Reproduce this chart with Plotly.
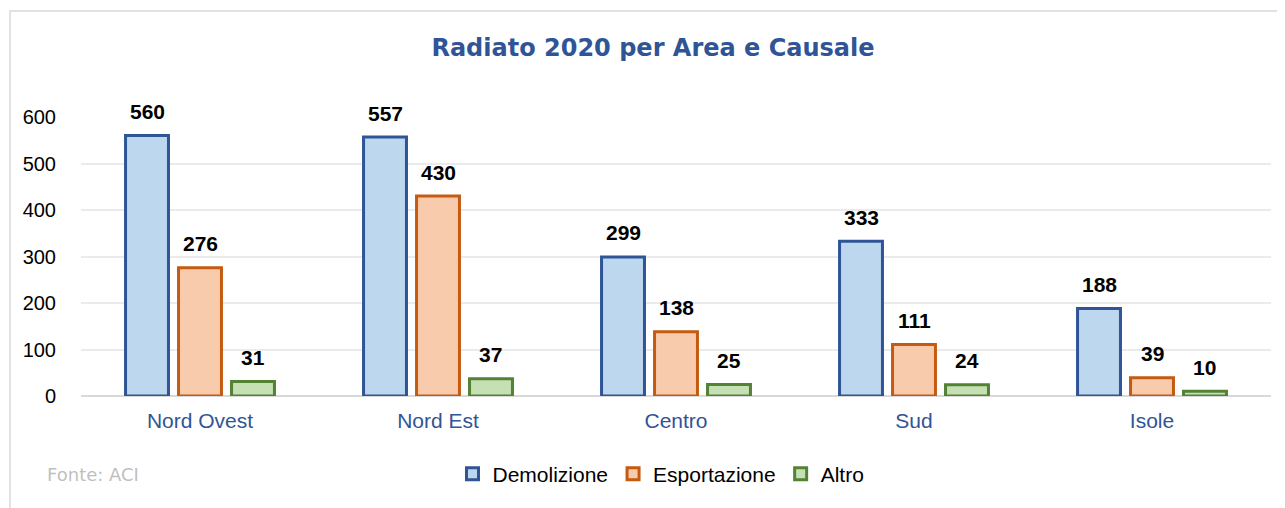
import plotly.graph_objects as go

categories = ["Nord Ovest", "Nord Est", "Centro", "Sud", "Isole"]
demolizione = [560, 557, 299, 333, 188]
esportazione = [276, 430, 138, 111, 39]
altro = [31, 37, 25, 24, 10]
series_names = ["Demolizione", "Esportazione", "Altro"]
y_ticks = [0, 100, 200, 300, 400, 500, 600]

# page body has an 8px default margin; compensate so the chart lands where the reference is
OFF = 8
VW, VH = 1285, 508
W, H = VW - OFF, VH - OFF
ML, MT = 81 - OFF, 117 - OFF
PW, PH = 1190, 279
MR = W - ML - PW
MB = H - MT - PH
BARGAP = 0.332
BARGROUPGAP = 0.19

fills = ["#BDD7EE", "#F8CBAD", "#C5E0B4"]
lines = ["#2F5597", "#C55A11", "#548235"]
series = [demolizione, esportazione, altro]

fig = go.Figure()
for name, vals, fc, lc in zip(series_names, series, fills, lines):
    fig.add_trace(go.Bar(
        x=categories, y=vals, name=name,
        marker=dict(color=fc, line=dict(color=lc, width=3)),
    ))

slot = PW / len(categories) * (1 - BARGAP) / len(series)
annotations = []
for i, vals in enumerate(series):
    for c, v in zip(categories, vals):
        annotations.append(dict(
            x=c, y=v, xref="x", yref="y", text=f"<b>{v}</b>", showarrow=False,
            xshift=(i - 1) * slot, yshift=24, yanchor="middle",
            font=dict(family="Liberation Sans, Arial", size=21, color="#000000"),
        ))

# helpers converting viewport pixels to paper coordinates
def px_to_paper_x(px):
    return (px - OFF - ML) / PW

def px_to_paper_y(py):
    return (OFF + MT + PH - py) / PH

annotations.append(dict(
    x=px_to_paper_x(45), y=px_to_paper_y(474), xref="paper", yref="paper",
    text="Fonte: ACI", showarrow=False, xanchor="left", yanchor="middle",
    font=dict(family="DejaVu Sans", size=18, color="#BFBFBF"),
))

fig.update_layout(
    width=W, height=H,
    margin=dict(l=ML, r=MR, t=MT, b=MB, pad=0),
    paper_bgcolor="white", plot_bgcolor="white",
    barmode="group", bargap=BARGAP, bargroupgap=BARGROUPGAP,
    title=dict(
        text="<b>Radiato 2020 per Area e Causale</b>",
        x=(653 - OFF) / W, xanchor="center", y=1 - (48 - OFF) / H, yanchor="middle",
        xref="container", yref="container",
        font=dict(family="DejaVu Sans", size=24, color="#2F5597"),
    ),
    xaxis=dict(
        showgrid=False, showline=False, ticks="",
        tickfont=dict(family="Liberation Sans, Arial", size=21, color="#2F5597"),
        ticklabelstandoff=10,
    ),
    yaxis=dict(
        range=[0, 600], tickvals=y_ticks, showgrid=True, gridcolor="#EBEBEB", gridwidth=1.5,
        zeroline=True, zerolinecolor="#D9D9D9", zerolinewidth=2, showline=False,
        tickfont=dict(family="Liberation Sans, Arial", size=20, color="#000000"),
        ticklabelstandoff=24,
    ),
    legend=dict(
        orientation="h", x=px_to_paper_x(661), xanchor="center",
        y=px_to_paper_y(474), yanchor="middle",
        font=dict(family="Liberation Sans, Arial", size=21, color="#000000"),
        itemwidth=30, traceorder="normal",
    ),
    annotations=annotations,
    shapes=[dict(
        type="rect", xref="paper", yref="paper", layer="below",
        x0=px_to_paper_x(10), x1=px_to_paper_x(VW + 20),
        y0=px_to_paper_y(VH + 20), y1=px_to_paper_y(11),
        line=dict(color="#D9D9D9", width=1.5), fillcolor="rgba(0,0,0,0)",
    )],
)

fig.write_html("out.html")
